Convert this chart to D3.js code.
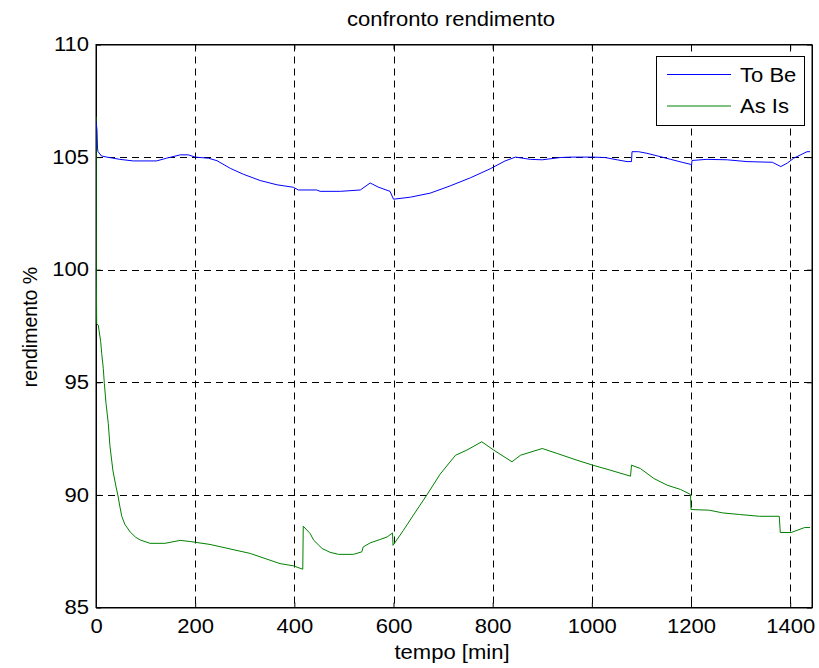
<!DOCTYPE html>
<html>
<head>
<meta charset="utf-8">
<script src="https://cdn.jsdelivr.net/npm/d3@7"></script>
<style>
  body { margin: 0; background: #fff; }
  svg { font-family: "Liberation Sans", Arial, sans-serif; }
</style>
</head>
<body>
<div id="chart"></div>
<script>
// series: [minutes, rendimento %]
const toBe = [
  [0, 106.6], [2, 106.2], [3, 105.4], [4, 105.25], [11, 105.05], [22, 105.0],
  [48, 104.9], [75, 104.83], [122, 104.83], [142, 104.95], [170, 105.1], [186, 105.1],
  [200, 105.0], [227, 104.95], [244, 104.84], [271, 104.5], [297, 104.24], [331, 103.96],
  [365, 103.77], [398, 103.66], [408, 103.54], [445, 103.54], [452, 103.48], [493, 103.48],
  [533, 103.54], [553, 103.85], [569, 103.67], [593, 103.48], [600, 103.13], [634, 103.22],
  [674, 103.4], [714, 103.72], [755, 104.08], [795, 104.48], [825, 104.83], [846, 105.0],
  [876, 104.9], [900, 104.88], [936, 104.98], [957, 105.0], [1002, 105.0], [1027, 104.98],
  [1051, 104.88], [1071, 104.8], [1080, 104.8], [1081, 105.24], [1094, 105.24], [1111, 105.17],
  [1138, 105.02], [1159, 104.9], [1182, 104.77], [1199, 104.68], [1201, 104.62], [1202, 104.85],
  [1232, 104.9], [1273, 104.88], [1313, 104.8], [1364, 104.77], [1381, 104.58], [1394, 104.73],
  [1407, 104.95], [1434, 105.24], [1440, 105.24]
];

const asIs = [
  [0, 106.8], [0.5, 100.0], [1.4, 97.6], [4.6, 97.54], [9.5, 96.8], [11.5, 96.28],
  [14.7, 95.62], [16.8, 94.95], [20.2, 94.06], [24.8, 93.17], [28, 92.2], [34, 91.1],
  [40, 90.4], [44, 90.0], [48, 89.5], [52, 89.05], [58, 88.7], [69, 88.35], [80, 88.12],
  [89, 88.0], [109, 87.85], [139, 87.85],
  [170, 87.98], [190, 87.93], [230, 87.8], [311, 87.4], [371, 86.95], [398, 86.85],
  [417, 86.7], [418, 88.61], [432, 88.28], [439, 87.99], [456, 87.62], [472, 87.45],
  [489, 87.36], [519, 87.36], [536, 87.47], [539, 87.69], [553, 87.87], [573, 88.02],
  [587, 88.13], [598, 88.31], [599, 87.76], [620, 88.43], [640, 89.1], [667, 89.99],
  [694, 90.92], [725, 91.76], [748, 91.99], [778, 92.36], [802, 91.99], [839, 91.47],
  [856, 91.76], [900, 92.06], [930, 91.84], [970, 91.54], [1002, 91.32], [1037, 91.1],
  [1078, 90.83], [1080, 91.32], [1098, 91.17], [1125, 90.73], [1152, 90.43], [1179, 90.24],
  [1199, 90.02], [1200, 89.35], [1237, 89.32], [1264, 89.2], [1298, 89.13], [1338, 89.05],
  [1378, 89.05], [1380, 88.33], [1402, 88.33], [1429, 88.55], [1440, 88.55]
];

const xTicks = [0, 200, 400, 600, 800, 1000, 1200, 1400];
const yTicks = [85, 90, 95, 100, 105, 110];
const seriesNames = ["To Be", "As Is"];
const seriesColors = ["#0000ff", "#008000"];

const W = 819, H = 668;
const box = {left: 96, right: 812, top: 44.5, bottom: 607.5};
const fontSize = "19.5px";
const stretch = 1.13; // text in the picture is a bit wider than the font

const svg = d3.select("#chart").append("svg")
  .attr("width", W)
  .attr("height", H);

svg.append("rect").attr("width", W).attr("height", H).attr("fill", "#fff");

const x = d3.scaleLinear().domain([0, 1444]).range([box.left, box.right]);
const y = d3.scaleLinear().domain([85, 110]).range([box.bottom, box.top]);

// dashed grid
svg.append("g")
  .selectAll("line")
  .data(xTicks.slice(1))
  .join("line")
  .attr("x1", d => Math.round(x(d)) + 0.5)
  .attr("x2", d => Math.round(x(d)) + 0.5)
  .attr("y1", box.top)
  .attr("y2", box.bottom)
  .attr("stroke", "#000")
  .attr("stroke-dasharray", "7,5");

svg.append("g")
  .selectAll("line")
  .data(yTicks.slice(1, -1))
  .join("line")
  .attr("x1", box.left)
  .attr("x2", box.right)
  .attr("y1", d => Math.round(y(d)) + 0.5)
  .attr("y2", d => Math.round(y(d)) + 0.5)
  .attr("stroke", "#000")
  .attr("stroke-dasharray", "7,5");

// axes with inward ticks (matlab style)
svg.append("g")
  .attr("transform", `translate(0,${box.bottom})`)
  .call(d3.axisBottom(x).tickValues(xTicks).tickFormat(d3.format("d"))
    .tickSize(-5).tickPadding(12).tickSizeOuter(0));
svg.append("g")
  .attr("transform", `translate(${box.left},0)`)
  .call(d3.axisLeft(y).tickValues(yTicks).tickFormat(d3.format("d"))
    .tickSize(-5).tickPadding(7).tickSizeOuter(0));
svg.append("g")
  .attr("transform", `translate(0,${box.top})`)
  .call(d3.axisTop(x).tickValues(xTicks).tickSize(-5).tickFormat("").tickSizeOuter(0));
svg.append("g")
  .attr("transform", `translate(${box.right},0)`)
  .call(d3.axisRight(y).tickValues(yTicks).tickSize(-5).tickFormat("").tickSizeOuter(0));

svg.selectAll(".tick text")
  .attr("fill", "#000")
  .style("font-size", fontSize)
  .style("font-family", "'Liberation Sans', Arial, sans-serif")
  .attr("transform", function() {
    const tx = +this.getAttribute("x") || 0;
    return `translate(${tx},0) scale(${stretch},1) translate(${-tx},0)`;
  });
svg.selectAll(".domain").attr("stroke", "#000");

// plot box
svg.append("rect")
  .attr("x", box.left)
  .attr("y", box.top)
  .attr("width", box.right - box.left)
  .attr("height", box.bottom - box.top)
  .attr("fill", "none")
  .attr("stroke", "#000");

svg.append("clipPath").attr("id", "clip")
  .append("rect")
  .attr("x", box.left)
  .attr("y", box.top)
  .attr("width", box.right - box.left)
  .attr("height", box.bottom - box.top);

const line = d3.line()
  .x(d => x(d[0]))
  .y(d => y(d[1]));

const plot = svg.append("g").attr("clip-path", "url(#clip)");
plot.append("path")
  .datum(asIs)
  .attr("d", line)
  .attr("fill", "none")
  .attr("stroke", seriesColors[1])
  .attr("stroke-width", 1);
plot.append("path")
  .datum(toBe)
  .attr("d", line)
  .attr("fill", "none")
  .attr("stroke", seriesColors[0])
  .attr("stroke-width", 1);

// title and axis labels
function label(px, py, txt, anchor) {
  svg.append("text")
    .attr("transform", `translate(${px},${py}) scale(${stretch},1)`)
    .attr("text-anchor", anchor || "middle")
    .style("font-size", fontSize)
    .text(txt);
}
label(451, 26, "confronto rendimento");
label(452, 659, "tempo [min]");

svg.append("text")
  .attr("transform", `translate(37,${(box.top + box.bottom) / 2 + 1}) rotate(-90)`)
  .attr("text-anchor", "middle")
  .style("font-size", fontSize)
  .text("rendimento %");

// legend
const legend = svg.append("g");
legend.append("rect")
  .attr("x", 656.5)
  .attr("y", 56.5)
  .attr("width", 148)
  .attr("height", 69)
  .attr("fill", "#fff")
  .attr("stroke", "#000");

seriesNames.forEach((name, i) => {
  const ly = 74.5 + i * 31.5;
  legend.append("line")
    .attr("x1", 667)
    .attr("x2", 731)
    .attr("y1", ly)
    .attr("y2", ly)
    .attr("stroke", seriesColors[i]);
  svg.append("text")
    .attr("transform", `translate(740,${ly + 7}) scale(${stretch},1)`)
    .style("font-size", fontSize)
    .text(name);
});
</script>
</body>
</html>
